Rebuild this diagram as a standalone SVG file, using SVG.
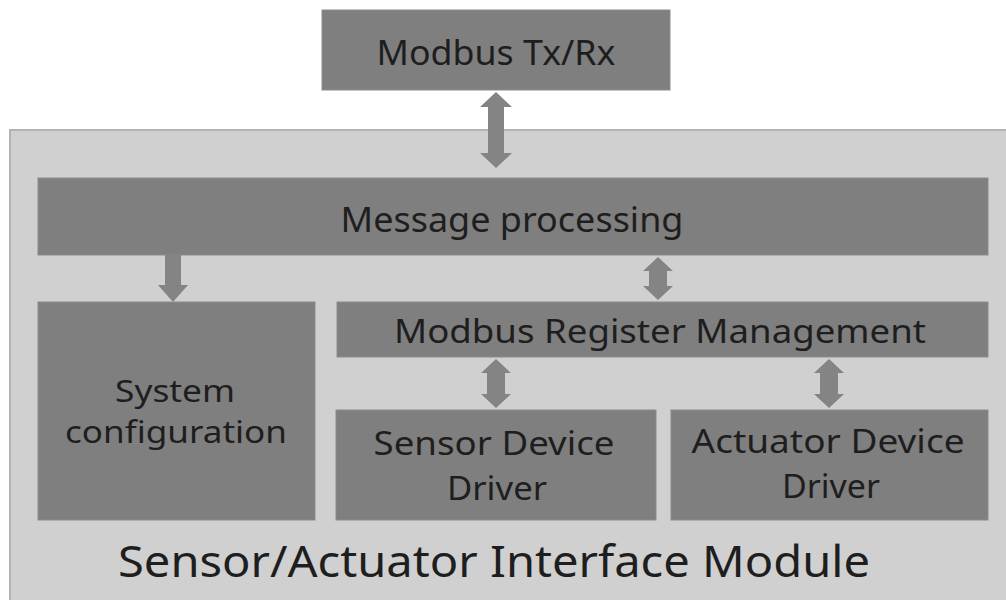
<svg xmlns="http://www.w3.org/2000/svg" width="1006" height="600" viewBox="0 0 1006 600">
  <style>
    .panel { fill: #d0d0d0; stroke: #b4b4b4; stroke-width: 2; }
    .box { fill: #7f7f7f; stroke: #8c8c8c; stroke-width: 1; }
    .arrow { fill: #848484; }
    .label { font-family: "Noto Sans", "Open Sans", sans-serif; fill: #1e1e1e; text-anchor: middle; }
  </style>
  <rect width="1006" height="600" fill="#ffffff"/>

  <!-- Module container -->
  <g id="module">
    <rect class="panel" x="10" y="130" width="1010" height="480"/>
    <text class="label" x="494" y="577" font-size="44" textLength="752" lengthAdjust="spacingAndGlyphs">Sensor/Actuator Interface Module</text>
  </g>

  <g id="modbus-txrx">
    <rect class="box" x="322" y="10" width="348" height="80"/>
    <text class="label" x="496" y="65" font-size="35" textLength="239" lengthAdjust="spacingAndGlyphs">Modbus Tx/Rx</text>
  </g>

  <g id="message-processing">
    <rect class="box" x="38" y="178" width="950" height="77"/>
    <text class="label" x="512" y="232" font-size="35" textLength="343" lengthAdjust="spacingAndGlyphs">Message processing</text>
  </g>

  <g id="system-configuration">
    <rect class="box" x="38" y="302" width="277" height="218"/>
    <text class="label" x="175" y="402" font-size="30" textLength="120" lengthAdjust="spacingAndGlyphs">System</text>
    <text class="label" x="176" y="443" font-size="30" textLength="222" lengthAdjust="spacingAndGlyphs">configuration</text>
  </g>

  <g id="register-management">
    <rect class="box" x="337" y="302" width="651" height="55"/>
    <text class="label" x="660" y="343" font-size="33" textLength="532" lengthAdjust="spacingAndGlyphs">Modbus Register Management</text>
  </g>

  <g id="sensor-driver">
    <rect class="box" x="336" y="410" width="320" height="110"/>
    <text class="label" x="494" y="455" font-size="32" textLength="241" lengthAdjust="spacingAndGlyphs">Sensor Device</text>
    <text class="label" x="497" y="500" font-size="32" textLength="100" lengthAdjust="spacingAndGlyphs">Driver</text>
  </g>

  <g id="actuator-driver">
    <rect class="box" x="671" y="410" width="317" height="110"/>
    <text class="label" x="828" y="453" font-size="32" textLength="273" lengthAdjust="spacingAndGlyphs">Actuator Device</text>
    <text class="label" x="831" y="498" font-size="32" textLength="98" lengthAdjust="spacingAndGlyphs">Driver</text>
  </g>

  <!-- Connectors -->
  <g id="connectors">
    <polygon class="arrow" points="496,92 512,107 504,107 504,153 512,153 496,168 480,153 488,153 488,107 480,107"/>
    <polygon class="arrow" points="165,255 181,255 181,285 188,285 173,302 158,285 165,285"/>
    <polygon class="arrow" points="658,257 673,271 667,271 667,286 673,286 658,300 643,286 649,286 649,271 643,271"/>
    <polygon class="arrow" points="496,359 511,373 505,373 505,394 511,394 496,408 481,394 487,394 487,373 481,373"/>
    <polygon class="arrow" points="829,359 844,373 838,373 838,394 844,394 829,408 814,394 820,394 820,373 814,373"/>
  </g>
</svg>
